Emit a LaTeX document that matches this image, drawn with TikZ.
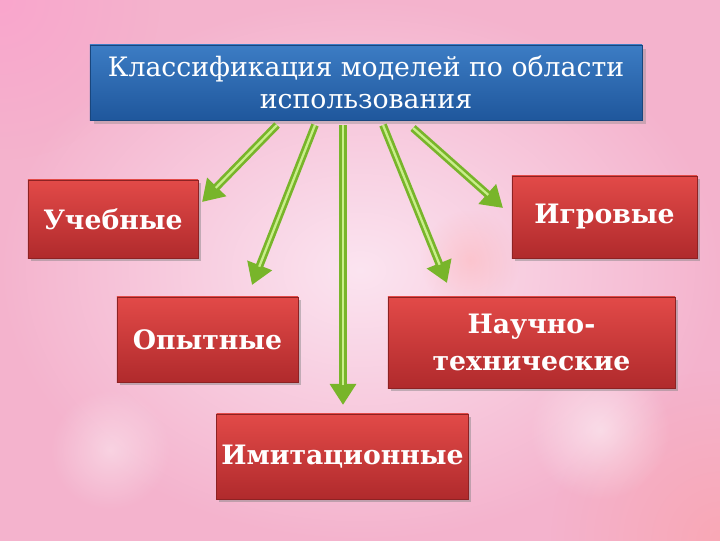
\documentclass[tikz,border=0pt]{standalone}
\usepackage{fontspec}
\setmainfont{DejaVu Serif}
\usetikzlibrary{arrows.meta,shadows,fadings}
\definecolor{bgpink}{HTML}{F4B3CD}
\definecolor{bglight}{HTML}{FBE4F0}
\definecolor{titletop}{HTML}{3C7CC4}
\definecolor{titlebot}{HTML}{1F579C}
\definecolor{boxtop}{HTML}{E24A48}
\definecolor{boxbot}{HTML}{B02A2C}
\definecolor{arrowdark}{HTML}{78B52A}
\definecolor{arrowlight}{HTML}{C9EE8A}
\tikzfading[name=softblob, inner color=transparent!0, outer color=transparent!100]
\tikzset{
  titlebox/.style={rectangle, top color=titletop, bottom color=titlebot,
    draw=titlebot!80!black, line width=0.4pt, text=white, align=center,
    font=\fontsize{19}{23}\selectfont, drop shadow={opacity=0.35}},
  redbox/.style={rectangle, top color=boxtop, bottom color=boxbot,
    draw=boxbot!80!black, line width=0.4pt, text=white, align=center,
    font=\bfseries\fontsize{19}{26}\selectfont,
    drop shadow={shadow xshift=2pt, shadow yshift=-2pt, opacity=0.45}},
  greenarrow/.style={draw=arrowdark, line width=5.5pt,
    -{Triangle[length=15pt, width=18pt]},
    postaction={draw=arrowlight, line width=1.6pt, -, shorten >=14pt}}
}
\begin{document}
\begin{tikzpicture}[x=0.025cm, y=-0.025cm]
\useasboundingbox (0,0) rectangle (720,540);
% background
\begin{scope}
\clip (0,0) rectangle (720,540);
\fill[inner color=bglight, outer color=bgpink] (0,0) rectangle (720,540);
\fill[pink!80!magenta, path fading=softblob, opacity=0.5] (0,0) circle (160);
\fill[pink!80!red, path fading=softblob, opacity=0.45] (720,540) circle (170);
\fill[pink!90!red, path fading=softblob, opacity=0.4] (470,260) circle (50);
\fill[white, path fading=softblob, opacity=0.5] (600,430) circle (70);
\fill[white, path fading=softblob, opacity=0.4] (110,450) circle (60);
\end{scope}

% boxes
\node[titlebox, minimum width=13.8cm, minimum height=1.875cm] (title) at (366,82.5)
  {Классификация моделей по области\\использования};
\node[redbox, minimum width=4.25cm, minimum height=1.95cm] (ucheb) at (113,219) {Учебные};
\node[redbox, minimum width=4.625cm, minimum height=2.05cm] (igrov) at (604.5,217) {Игровые};
\node[redbox, minimum width=4.525cm, minimum height=2.125cm] (opyt) at (207.5,339.5) {Опытные};
\node[redbox, minimum width=7.175cm, minimum height=2.275cm] (nauch) at (531.5,342.5) {Научно-\\технические};
\node[redbox, minimum width=6.175cm, minimum height=2.125cm] (imit) at (342.5,456.5) {Имитационные};

% arrows
\coordinate (a1) at (277,125);
\coordinate (b1) at (202,202);
\coordinate (a2) at (315,125);
\coordinate (b2) at (252,285);
\coordinate (a3) at (343,125);
\coordinate (b3) at (343,405);
\coordinate (a4) at (383,125);
\coordinate (b4) at (447,283);
\coordinate (a5) at (413,128);
\coordinate (b5) at (503,208);
\foreach \s/\e in {a1/b1,a2/b2,a3/b3,a4/b4,a5/b5}
  \draw[greenarrow] (\s) -- (\e);
\end{tikzpicture}
\end{document}
